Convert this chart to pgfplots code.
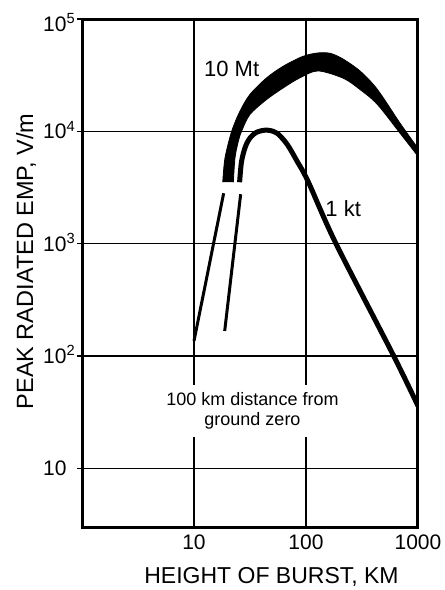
\documentclass[border=0pt]{standalone}
\usepackage{fontspec}
\setmainfont{Liberation Sans}
\usepackage{pgfplots}
\pgfplotsset{compat=1.18}
\usepgfplotslibrary{fillbetween}

\begin{document}
\begin{tikzpicture}
\begin{axis}[
    at={(82pt,-527pt)}, anchor=south west,
    scale only axis, width=336pt, height=508pt,
    xmode=log, ymode=log,
    xmin=1, xmax=1000, ymin=3, ymax=1e5,
    xtick={10,100,1000}, xticklabels={10,100,1000},
    ytick={10,100,1000,10000,100000},
    yticklabels={10, 10\textsuperscript{2}, 10\textsuperscript{3}, 10\textsuperscript{4}, \raisebox{-5pt}{10\textsuperscript{5}}},
    xminorticks=false, yminorticks=false,
    grid=major,
    major grid style={black, line width=1.5pt},
    axis line style={line width=3pt, line cap=rect},
    tick align=outside, major tick length=5pt,
    xtick pos=bottom, ytick pos=left,
    xtick style={draw=none},
    ytick style={black, line width=1.5pt},
    xticklabel style={anchor=north, inner sep=0pt, yshift=-3pt, font=\fontsize{21}{24}\selectfont},
    yticklabel style={anchor=base west, inner sep=0pt, xshift=-34pt, yshift=-7.5pt, font=\fontsize{21}{24}\selectfont},
]

% 10 Mt band, outer and inner edge
\addplot[black, line width=0.8pt, smooth, name path=up] coordinates {
    (18.06,3521) (18.92,5790) (21.70,10000) (25.69,15060) (31.49,21200)
    (44.26,29780) (62.21,37830) (93.5,46420) (127.7,49860) (166.4,49360)
    (216.9,43650) (306.7,34150) (433.6,23620) (692.9,11780) (1000,7060)
};
\addplot[black, line width=0.8pt, smooth, name path=lo] coordinates {
    (22.46,3521) (23.21,5790) (24.87,8150) (26.59,10000) (31.49,14070)
    (44.26,19130) (62.21,24260) (87.25,29780) (127.7,34500) (216.9,29590)
    (306.7,23380) (433.6,17380) (692.9,9600) (1000,6000)
};
\addplot[black] fill between[of=up and lo];

% 1 kt
\addplot[black, line width=5pt, smooth] coordinates {
    (25.54,3521) (26.59,5412) (28.85,7356) (31.94,8843) (36.11,9797)
    (41.65,10200) (47.05,10200) (55.39,9600) (67.9,7662) (83.3,5412)
    (104.2,3593) (184.3,1010) (600.8,102) (1000,35.9)
};

% low altitude parts
\addplot[black, line width=3pt] coordinates {(10,136) (18.4,2810)};
\addplot[black, line width=3pt] coordinates {(18.8,167) (26.1,2754)};

\node[anchor=base, font=\fontsize{22}{26}\selectfont] at (axis cs:21.7,30830) {10 Mt};
\node[anchor=base, font=\fontsize{22}{26}\selectfont] at (axis cs:214.7,1755) {1 kt};
\node[fill=white, align=center, inner xsep=6pt, inner ysep=8pt,
      font=\fontsize{18}{20}\selectfont] at (axis cs:33.3,32.4)
      {100 km distance from\\ground zero};
\end{axis}

\node[anchor=base, font=\fontsize{23}{27}\selectfont] at (271.5pt,-583pt) {HEIGHT OF BURST, KM};
\node[anchor=base, rotate=90, font=\fontsize{23.5}{27}\selectfont] at (33pt,-261.5pt) {PEAK RADIATED EMP, V/m};
\pgfresetboundingbox
\path[use as bounding box] (0,0) rectangle (445pt,-590pt);
\end{tikzpicture}
\end{document}
